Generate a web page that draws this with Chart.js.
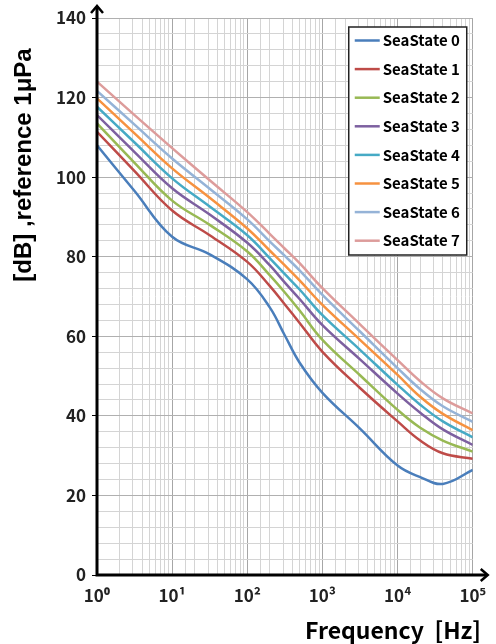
<!DOCTYPE html>
<html>
<head>
<meta charset="utf-8">
<script src="https://cdn.jsdelivr.net/npm/chart.js@4.4.1/dist/chart.umd.min.js"></script>
<style>
  html, body { margin: 0; padding: 0; background: #fff; }
  #wrap { position: relative; width: 496px; height: 644px; }
</style>
</head>
<body>
<div id="wrap"><canvas id="noiseChart"></canvas></div>
<script>
// frequency points (Hz) and noise level per sea state (dB re 1uPa)
var freqs = [1, 3.16, 10, 31.6, 100, 200, 316, 500, 1000, 3160, 10000, 20000, 40000, 100000];
var ss0 = [108, 96.5, 85, 80.6, 74.3, 67.2, 60.2, 53.3, 45.8, 36.8, 27.5, 24.6, 22.9, 26.4];
var ss1 = [111.4, 101.5, 91.6, 85.4, 78.7, 72.6, 68, 63.3, 56.1, 47, 38.6, 33.8, 30.6, 29.2];
var ss2 = [113.5, 103.6, 94.1, 88, 81.3, 75.3, 71, 66.4, 59.1, 50.2, 41.5, 37, 33.8, 31];
var ss3 = [115.6, 106.3, 97.2, 90.6, 83.5, 77.8, 73.5, 69.3, 62.8, 54.2, 45.6, 40.8, 36.6, 32.7];
var ss4 = [117.7, 108.7, 99.7, 92.6, 85.4, 79.6, 75.6, 71.7, 65.3, 56.6, 47.8, 42.8, 38.6, 34.6];
var ss5 = [119.8, 111, 102.2, 94.8, 87.1, 81.5, 77.8, 74, 67.9, 59.1, 50.3, 44.8, 40.5, 36.4];
var ss6 = [121.7, 113.2, 104.7, 97.1, 89.4, 83.8, 80.2, 76.5, 70.4, 61.2, 52, 46.7, 42.4, 38.5];
var ss7 = [124, 115.6, 107.3, 99.2, 91.2, 85.7, 82, 78.3, 72.1, 63, 54, 48.7, 44.4, 40.6];
var seriesLabels = ['SeaState 0', 'SeaState 1', 'SeaState 2', 'SeaState 3',
                    'SeaState 4', 'SeaState 5', 'SeaState 6', 'SeaState 7'];
var xTickLabels = ['10\u2070', '10\u00b9', '10\u00b2', '10\u00b3', '10\u2074', '10\u2075'];
var yMajorStep = 20;

var colors = ['#4a7ebb', '#be4b48', '#98b954', '#7d60a0', '#46aac5', '#f69240', '#95b3d7', '#dd9c9b'];
var font = "'Noto Sans CJK KR', 'Noto Sans', sans-serif";

var allSeries = [ss0, ss1, ss2, ss3, ss4, ss5, ss6, ss7];
var datasets = [];
for (var i = 0; i < allSeries.length; i++) {
  datasets.push({
    label: seriesLabels[i],
    data: freqs.map(function (f, k) { return { x: f, y: this[k] }; }, allSeries[i]),
    borderColor: colors[i],
    backgroundColor: colors[i],
    borderWidth: 2.5,
    pointRadius: 0,
    tension: 0.4,
    fill: false
  });
}

function isDecade(v) {
  var p = Math.round(Math.log10(v));
  return Math.abs(v - Math.pow(10, p)) < 1e-6 * v;
}

// axes with arrows, titles and boxed legend
var decor = {
  id: 'decor',
  afterDraw: function (chart) {
    var ctx = chart.ctx, a = chart.chartArea;
    ctx.save();
    ctx.strokeStyle = '#000';
    ctx.lineWidth = 3;
    ctx.beginPath();
    ctx.moveTo(a.left, 7);
    ctx.lineTo(a.left, a.bottom);
    ctx.lineTo(a.right + 14, a.bottom);
    ctx.stroke();
    ctx.lineWidth = 2.5;
    ctx.beginPath();
    ctx.moveTo(a.left - 6, 13); ctx.lineTo(a.left, 6); ctx.lineTo(a.left + 6, 13);
    ctx.moveTo(a.right + 8, a.bottom - 6); ctx.lineTo(a.right + 15, a.bottom); ctx.lineTo(a.right + 8, a.bottom + 6);
    ctx.stroke();

    // titles
    ctx.fillStyle = '#000';
    ctx.textBaseline = 'middle';
    ctx.font = 'bold 23px ' + font;
    ctx.textAlign = 'right';
    ctx.fillText('Frequency  [Hz]', 481, 630);
    ctx.save();
    ctx.translate(24, 165);
    ctx.rotate(-Math.PI / 2);
    ctx.textAlign = 'center';
    ctx.font = "bold 24px 'Liberation Sans', Arial, sans-serif";
    ctx.fillText('[dB] ,reference 1\u03bcPa', 0, 0);
    ctx.restore();

    // legend
    var bx = a.right - 124, by = a.top + 9, bw = 118, bh = 228;
    ctx.fillStyle = '#fff';
    ctx.fillRect(bx, by, bw, bh);
    ctx.strokeStyle = '#222';
    ctx.lineWidth = 1.5;
    ctx.strokeRect(bx, by, bw, bh);
    ctx.font = 'bold 15px ' + font;
    ctx.textAlign = 'left';
    chart.data.datasets.forEach(function (ds, k) {
      var cy = by + 13.5 + k * 28.6;
      ctx.strokeStyle = ds.borderColor;
      ctx.lineWidth = 2.5;
      ctx.beginPath();
      ctx.moveTo(bx + 6, cy);
      ctx.lineTo(bx + 31, cy);
      ctx.stroke();
      ctx.fillStyle = '#000';
      ctx.fillText(ds.label, bx + 34, cy);
    });
    ctx.restore();
  }
};

new Chart(document.getElementById('noiseChart'), {
  type: 'line',
  data: { datasets: datasets },
  options: {
    responsive: true,
    maintainAspectRatio: false,
    animation: false,
    layout: { padding: { left: 0, right: 21, top: 18, bottom: 0 } },
    plugins: { legend: { display: false }, tooltip: { enabled: false } },
    scales: {
      x: {
        type: 'logarithmic',
        min: 1,
        max: 100000,
        afterFit: function (s) { s.height = 69; },
        border: { display: false },
        grid: {
          color: function (c) { return c.tick && isDecade(c.tick.value) ? '#a6a6a6' : '#d4d4d4'; },
          lineWidth: 1,
          tickLength: 0
        },
        ticks: {
          autoSkip: false,
          maxRotation: 0,
          padding: 10,
          color: '#222',
          font: { family: font, size: 17, weight: 'bold' },
          callback: function (v) {
            return isDecade(v) ? xTickLabels[Math.round(Math.log10(v))] : '';
          }
        }
      },
      y: {
        min: 0,
        max: 140,
        afterFit: function (s) { s.width = 97; },
        border: { display: false },
        grid: {
          color: function (c) { return c.tick && c.tick.value % yMajorStep === 0 ? '#b0b0b0' : '#d4d4d4'; },
          tickColor: function (c) { return c.tick && c.tick.value % yMajorStep === 0 ? '#000' : 'rgba(0,0,0,0)'; },
          tickLength: 5,
          lineWidth: 1
        },
        ticks: {
          stepSize: 4,
          autoSkip: false,
          padding: 6,
          color: '#222',
          font: { family: font, size: 17, weight: 'bold' },
          callback: function (v) { return v % yMajorStep === 0 ? String(v) : ''; }
        }
      }
    }
  },
  plugins: [decor]
});
</script>
</body>
</html>
